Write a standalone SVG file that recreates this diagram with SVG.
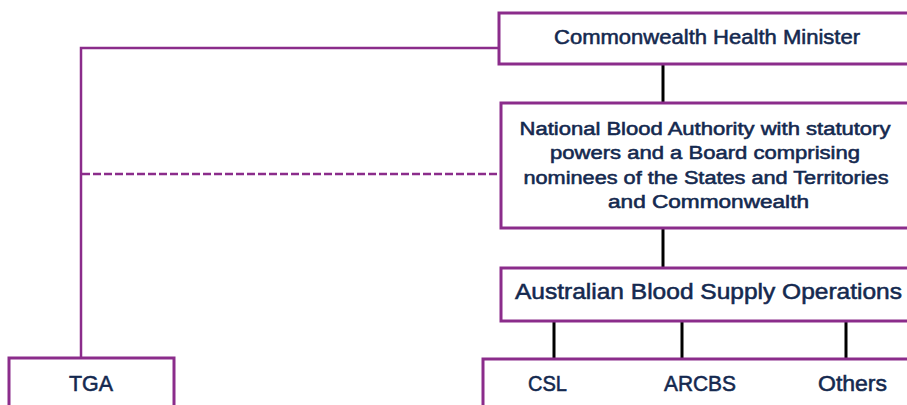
<svg xmlns="http://www.w3.org/2000/svg" width="907" height="405" viewBox="0 0 907 405">
<style>
.box{fill:#ffffff;stroke:#8B2C8B;stroke-width:3}
.lbl{font-family:"Liberation Sans",Arial,sans-serif;fill:#14294F;stroke:#14294F;stroke-width:0.55;text-anchor:middle}
.p{fill:none;stroke:#8B2C8B;stroke-width:2.5}
.k{fill:none;stroke:#000000;stroke-width:3}
</style>
<rect width="907" height="405" fill="#ffffff"/>
<g id="connectors">
<path class="p" d="M81,358 V48 H499"/>
<path class="p" d="M82,174 H501" stroke-dasharray="8,3"/>
<path class="k" d="M663,65 V103"/>
<path class="k" d="M663,228 V268"/>
<path class="k" d="M554,321 V359 M682,321 V359 M846,321 V359"/>
</g>
<g id="minister">
<rect class="box" x="499" y="13" width="420" height="51"/>
<text class="lbl" x="707" y="44" font-size="20.5" textLength="306" lengthAdjust="spacingAndGlyphs">Commonwealth Health Minister</text>
</g>
<g id="nba">
<rect class="box" x="501" y="103" width="420" height="125"/>
<text class="lbl" font-size="18">
<tspan x="707.5" y="135" textLength="371" lengthAdjust="spacingAndGlyphs">National Blood Authority with statutory</tspan>
<tspan x="707.5" y="159.4" textLength="310" lengthAdjust="spacingAndGlyphs">powers and a Board comprising</tspan>
<tspan x="708.5" y="183.8" textLength="365" lengthAdjust="spacingAndGlyphs">nominees of the States and Territories</tspan>
<tspan x="708.5" y="208.2" textLength="201" lengthAdjust="spacingAndGlyphs">and Commonwealth</tspan>
</text>
</g>
<g id="abso">
<rect class="box" x="501" y="268" width="420" height="53"/>
<text class="lbl" x="708.5" y="299.3" font-size="22.5" textLength="387" lengthAdjust="spacingAndGlyphs">Australian Blood Supply Operations</text>
</g>
<g id="suppliers">
<rect class="box" x="483" y="359" width="440" height="60"/>
<text class="lbl" x="547.5" y="391" font-size="22" textLength="39" lengthAdjust="spacingAndGlyphs">CSL</text>
<text class="lbl" x="700" y="391" font-size="22" textLength="72" lengthAdjust="spacingAndGlyphs">ARCBS</text>
<text class="lbl" x="852.5" y="391" font-size="22" textLength="69" lengthAdjust="spacingAndGlyphs">Others</text>
</g>
<g id="tga">
<rect class="box" x="9" y="358" width="165" height="60"/>
<text class="lbl" x="91" y="391" font-size="22" textLength="44" lengthAdjust="spacingAndGlyphs">TGA</text>
</g>
</svg>
